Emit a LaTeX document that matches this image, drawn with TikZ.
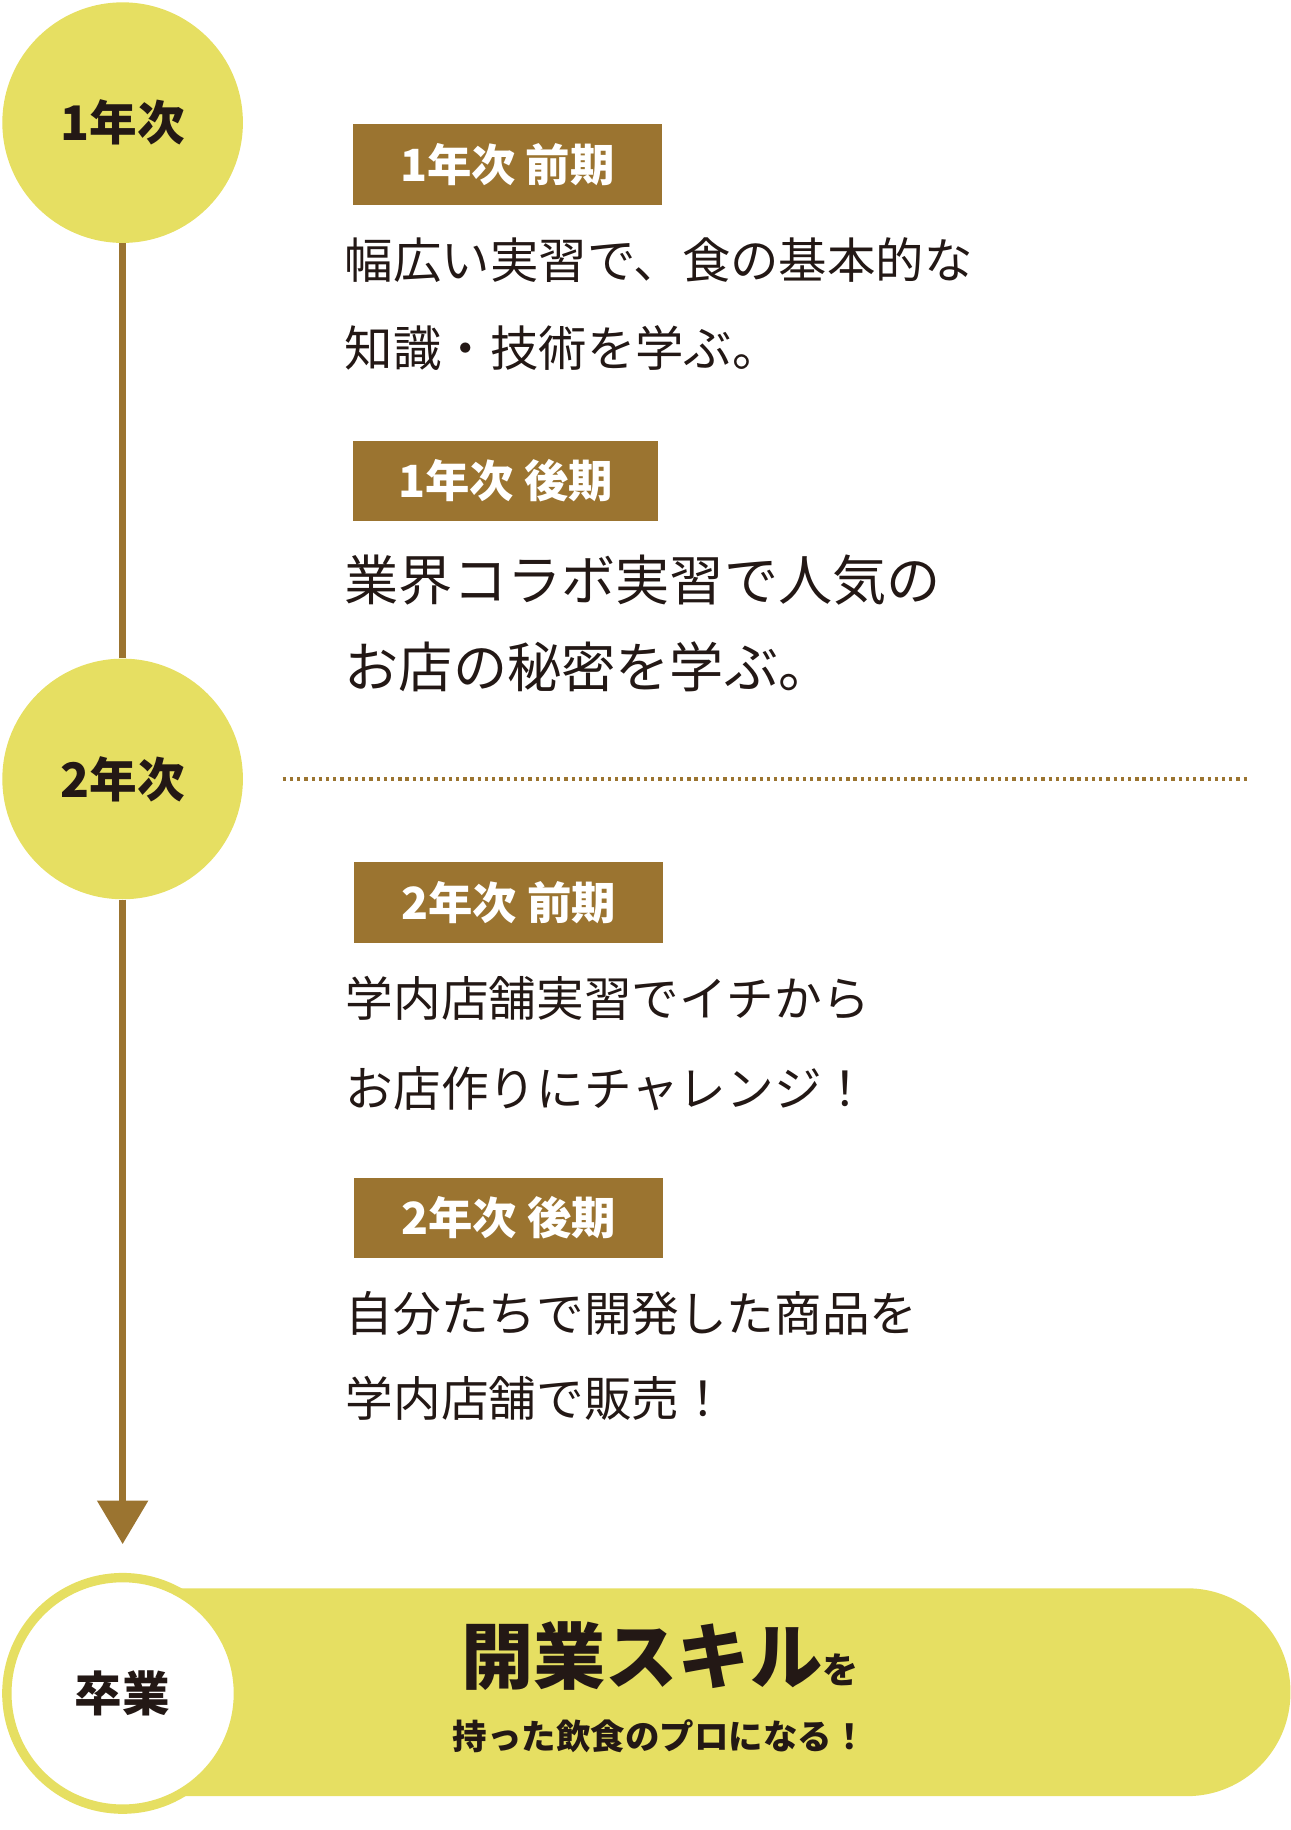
\documentclass[tikz,border=0pt]{standalone}
\usepackage{fontspec}
\setmainfont{Noto Sans CJK JP}
\usetikzlibrary{positioning, arrows.meta, calc}
\definecolor{lemon}{HTML}{E6DF62}
\definecolor{bronze}{HTML}{9B7430}
\definecolor{ink}{HTML}{231815}
\tikzset{
  yearball/.style={circle, fill=lemon, minimum size=146.5pt, inner sep=0pt, text=ink, font=\fontsize{29}{30}\selectfont\bfseries},
  termtag/.style={fill=bronze, text=white, anchor=north west, minimum height=49pt, minimum width=188pt, inner xsep=8pt, font=\fontsize{27}{28}\selectfont\bfseries},
  bodytext/.style={anchor=north west, text=ink, align=left, inner sep=0pt, xshift=-5pt}
}
\begin{document}
\begin{tikzpicture}[x=0.025cm, y=-0.025cm]
  \useasboundingbox (0,0) rectangle (1105,1567);

  %year markers
  \node (y1) [yearball] at (105,105) {1年次};
  \node (y2) [yearball] at (105,667) {2年次};
  \coordinate (tip) at (105,1322);%arrow tip

  %timeline
  \draw [bronze, line width=3.9pt] (y1) -- (y2);
  \draw [bronze, line width=3.9pt] (y2.south) -- (105,1290);
  \fill [bronze] (tip) -- (83,1285) -- (127,1285) -- cycle;

  %first year
  \node (t1a) [termtag] at (302,106) {1年次\ 前期};
  \node (b1a) [below=20pt of t1a.south west, bodytext, font=\fontsize{29.5}{53}\selectfont] {幅広い実習で、食の基本的な\\知識・技術を学ぶ。};
  \node (t1b) [termtag, minimum width=186pt] at (302,377) {1年次\ 後期};
  \node (b1b) [below=20pt of t1b.south west, bodytext, font=\fontsize{33}{53}\selectfont] {業界コラボ実習で人気の\\お店の秘密を学ぶ。};

  %separator
  \draw [bronze, line width=2pt, dash pattern=on 2pt off 2.4pt] (242,667) -- (1068,667);

  %second year
  \node (t2a) [termtag] at (303,738) {2年次\ 前期};
  \node (b2a) [below=20pt of t2a.south west, bodytext, font=\fontsize{29}{55}\selectfont] {学内店舗実習でイチから\\お店作りにチャレンジ！};
  \node (t2b) [termtag] at (303,1008) {2年次\ 後期};
  \node (b2b) [below=20pt of t2b.south west, bodytext, font=\fontsize{29}{52}\selectfont] {自分たちで開発した商品を\\学内店舗で販売！};

  %graduation
  \fill [lemon, rounded corners=63pt] (60,1360) rectangle (1105,1538);
  \node (grad) [circle, fill=white, draw=lemon, line width=5.7pt, minimum size=141pt, inner sep=0pt,
    text=ink, font=\fontsize{29}{30}\selectfont\bfseries] at (105,1450) {卒業};
  \node (goal) [text=ink, font=\fontsize{44}{46}\selectfont\bfseries] at (565,1418)
    {開業スキル{\fontsize{22}{24}\selectfont を}};
  \node (goal2) [text=ink, font=\fontsize{21}{24}\selectfont\bfseries, below=11pt of goal] {持った飲食のプロになる！};
\end{tikzpicture}
\end{document}
